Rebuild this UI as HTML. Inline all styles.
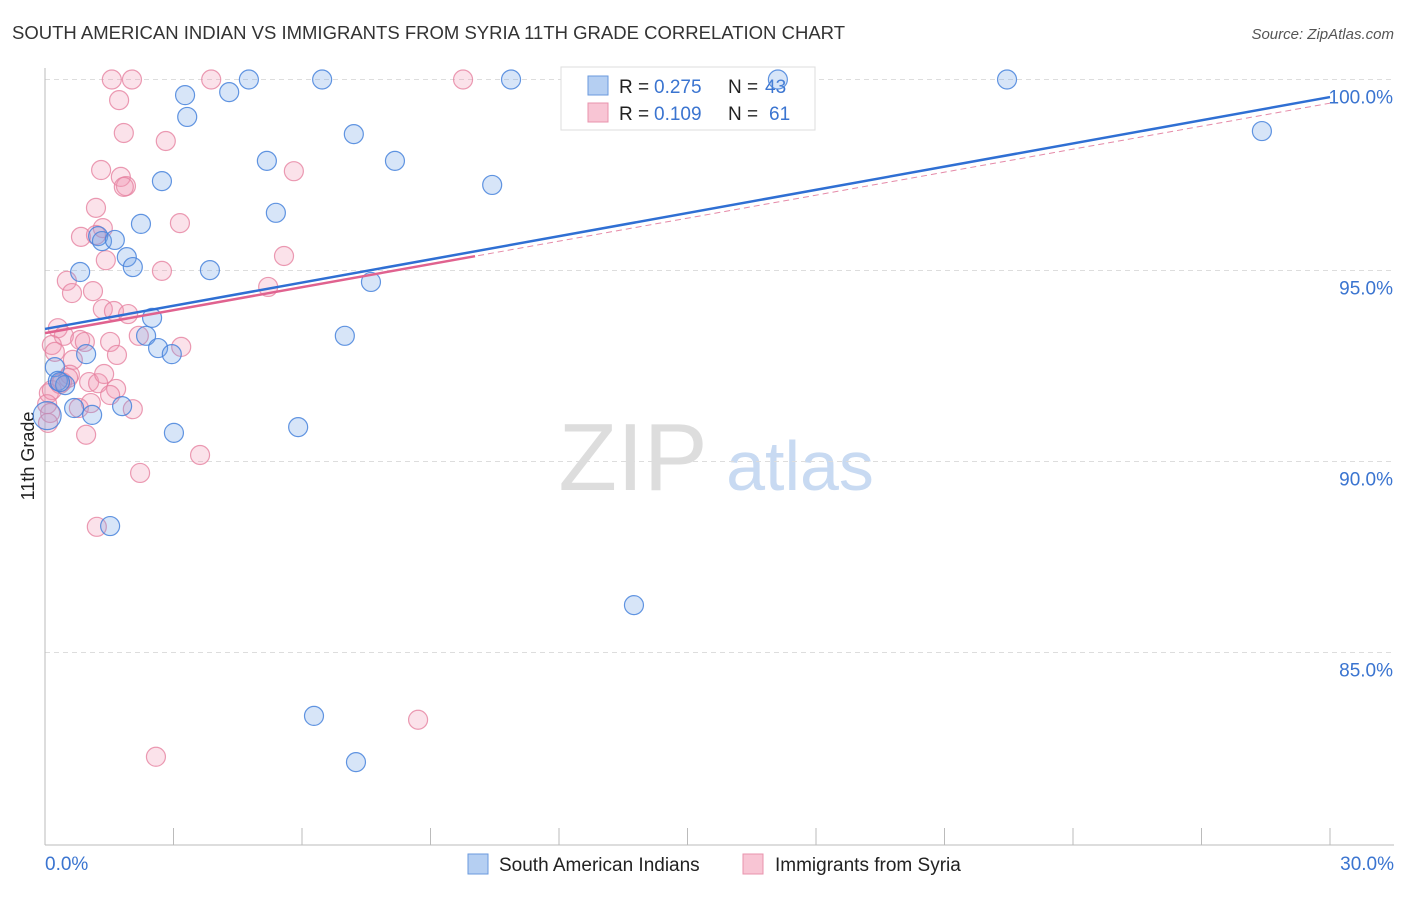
<!DOCTYPE html>
<html><head><meta charset="utf-8"><style>
body{margin:0;background:#fff;font-family:"Liberation Sans",sans-serif}
svg text{font-family:"Liberation Sans",sans-serif}
</style></head><body>
<svg id="chart" width="1406" height="892" xmlns="http://www.w3.org/2000/svg">
<text x="12" y="39" font-size="18.5" fill="#333" textLength="833">SOUTH AMERICAN INDIAN VS IMMIGRANTS FROM SYRIA 11TH GRADE CORRELATION CHART</text>
<text x="1394" y="39" font-size="15" fill="#555" font-style="italic" text-anchor="end">Source: ZipAtlas.com</text>
<text x="34" y="456" font-size="18" fill="#222" transform="rotate(-90 34 456)" text-anchor="middle">11th Grade</text>
<g><text x="633" y="490" font-size="96" fill="#ddd" text-anchor="middle" font-family="Liberation Serif">ZIP</text><text x="800" y="490" font-size="70" fill="#c8daf2" text-anchor="middle">atlas</text></g>
<g id="grid"></g><g id="axes"></g>
<g>
<rect x="561" y="67" width="254" height="63" fill="#fff" stroke="#ddd"/>
<rect x="588" y="76" width="20" height="19" fill="#b5cff2" stroke="#6a9ade"/>
<rect x="588" y="103" width="20" height="19" fill="#f8c5d4" stroke="#e893ad"/>
<text x="619" y="93" font-size="19" fill="#222">R =</text><text x="654" y="93" font-size="19" fill="#3a74d0">0.275</text>
<text x="728" y="93" font-size="19" fill="#222">N =</text><text x="765" y="93" font-size="19" fill="#3a74d0">43</text>
<text x="619" y="120" font-size="19" fill="#222">R =</text><text x="654" y="120" font-size="19" fill="#3a74d0">0.109</text>
<text x="728" y="120" font-size="19" fill="#222">N =</text><text x="769" y="120" font-size="19" fill="#3a74d0">61</text>
</g>
<g id="pts"></g><g id="lines"></g>
<g>
<rect x="468" y="854" width="20" height="20" fill="#b5cff2" stroke="#6a9ade"/>
<text x="499" y="871" font-size="19" fill="#222">South American Indians</text>
<rect x="743" y="854" width="20" height="20" fill="#f8c5d4" stroke="#e893ad"/>
<text x="775" y="871" font-size="19" fill="#222">Immigrants from Syria</text>
</g>
</svg>
<script>
const blueX=[4.76,6.47,10.88,17.11,22.46,3.27,4.30,3.32,28.41,7.21,5.18,8.17,2.73,10.44,5.39,2.24,1.24,1.33,1.63,1.91,2.05,3.85,0.82,7.61,2.50,7.00,2.36,2.64,2.96,0.96,0.23,0.30,0.47,0.35,1.80,0.68,1.10,5.91,3.01,0.05,1.52,13.75,6.28,7.26];
const blueY=[100,100,100,100,100,99.59,99.67,99.02,98.65,98.57,97.87,97.87,97.34,97.24,96.51,96.22,95.90,95.77,95.80,95.35,95.09,95.01,94.96,94.70,93.76,93.29,93.29,92.97,92.81,92.81,92.47,92.11,92.00,92.08,91.45,91.40,91.22,90.90,90.75,91.20,88.31,86.24,83.34,82.13];
const pinkX=[1.56,2.03,3.88,9.76,1.73,1.84,2.82,1.31,5.81,1.77,1.89,1.84,1.19,3.15,1.35,0.84,1.19,1.42,5.58,2.73,0.51,0.63,1.12,5.21,1.35,1.61,1.94,0.30,2.19,0.44,0.82,1.52,0.16,0.93,3.18,0.23,0.65,1.68,0.58,0.09,0.16,0.40,1.03,1.24,1.66,1.52,0.54,0.05,0.79,1.07,2.05,0.12,0.07,0.96,3.62,2.22,1.21,8.71,2.59,0.35,1.38];
const pinkY=[100,100,100,100,99.46,98.60,98.39,97.63,97.60,97.45,97.21,97.19,96.64,96.24,96.11,95.88,95.93,95.27,95.38,94.99,94.73,94.41,94.46,94.57,93.99,93.94,93.86,93.49,93.29,93.29,93.18,93.13,93.05,93.13,93.00,92.87,92.66,92.79,92.27,91.79,91.87,92.08,92.08,92.05,91.90,91.74,92.19,91.50,91.40,91.53,91.37,91.27,91.01,90.70,90.17,89.70,88.29,83.24,82.27,92.03,92.29];
const yTicks=[100,95,90,85];
const yTickLabels=["100.0%","95.0%","90.0%","85.0%"];
const xTickLabels=["0.0%","30.0%"];
const blueTrend=[93.47,99.54];
const pinkTrend=[93.36,99.38];
const pinkSolidEnd=10.04;
const NS="http://www.w3.org/2000/svg";
const X=v=>45+v/30*1285, Y=v=>79.5+(100-v)/5*191;
function mk(tag,attrs,parent){const e=document.createElementNS(NS,tag);for(const k in attrs)e.setAttribute(k,attrs[k]);document.getElementById(parent).appendChild(e);return e;}
yTicks.forEach((t,i)=>{
 const g=mk('line',{x1:45,x2:1394,y1:Y(t),y2:Y(t),stroke:'#ddd','stroke-dasharray':'5,4'},'grid');
 
 
 const tx=mk('text',{x:1393,y:Y(t)+24,'font-size':19,fill:'#3a74d0','text-anchor':'end'},'grid');
 tx.textContent=yTickLabels[i];
 
 
});
const ax=mk('line',{x1:45,x2:45,y1:68,y2:845,stroke:'#bbb'},'axes');


const bx=mk('line',{x1:45,x2:1394,y1:845,y2:845,stroke:'#bbb'},'axes');


for(let i=0;i<=10;i++){const t=mk('line',{x1:X(i*3),x2:X(i*3),y1:828,y2:845,stroke:'#bbb'},'axes');
 
 }
[[0,'start',45],[30,'end',1394]].forEach((d,i)=>{const t=mk('text',{x:d[2],y:870,'font-size':19,fill:'#3a74d0','text-anchor':d[1]},'axes');t.textContent=xTickLabels[i];
 
 });
function pts(xs,ys,fill,stroke,name,big){xs.forEach((x,i)=>{const r=(big&&x<0.1)?14:9.5;
 const c=mk('circle',{cx:X(x),cy:Y(ys[i]),r:r,fill:fill,stroke:stroke,'stroke-width':1.2},'pts');
 
 });}
pts(pinkX,pinkY,'rgba(242,150,180,0.28)','rgba(230,130,160,0.8)','syria-point',false);
pts(blueX,blueY,'rgba(110,160,230,0.28)','rgba(70,130,220,0.85)','south-american-indian-point',true);
const pd=mk('line',{x1:X(0),y1:Y(pinkTrend[0]),x2:X(30),y2:Y(pinkTrend[1]),stroke:'#e58aa8','stroke-width':1,'stroke-dasharray':'6,4'},'lines');


const ps=mk('line',{x1:X(0),y1:Y(pinkTrend[0]),x2:X(pinkSolidEnd),y2:Y(pinkTrend[0]+(pinkTrend[1]-pinkTrend[0])*pinkSolidEnd/30),stroke:'#e0628f','stroke-width':2.5},'lines');


const bl=mk('line',{x1:X(0),y1:Y(blueTrend[0]),x2:X(30),y2:Y(blueTrend[1]),stroke:'#2f6fd3','stroke-width':2.5},'lines');


</script>
</body></html>
